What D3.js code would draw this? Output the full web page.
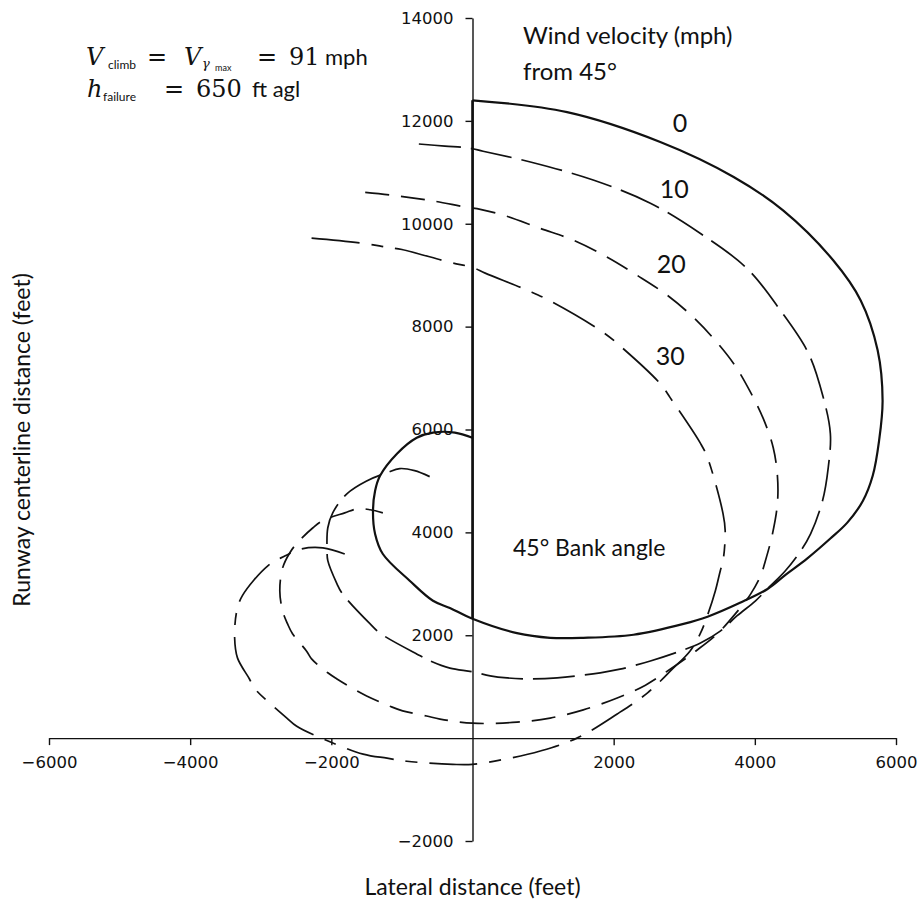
<!DOCTYPE html>
<meta charset="utf-8">
<script src="https://d3js.org/d3.v7.min.js"></script>
<style>
  body { margin: 0; background: #fff; }
  text { fill: #111; }
</style>
<svg id="chart" width="919" height="903"></svg>
<script>
// wind velocities (mph) from 45 degrees, one path each
const windSpeeds = [0, 10, 20, 30];
const xTicks = [-6000, -4000, -2000, 2000, 4000, 6000];
const yTicks = [-2000, 2000, 4000, 6000, 8000, 10000, 12000, 14000];

// ground tracks, [lateral ft, runway centerline ft]
const path0 = [[0,12400],[1340,12170],[2660,11590],[3700,10910],[4400,10260],[5110,9290],[5500,8510],
  [5740,7540],[5810,6560],[5760,5780],[5670,5100],[5530,4610],[5310,4190],[5070,3880],[4740,3490],
  [4430,3170],[4180,2900],[3790,2630],[3330,2360],[2990,2220],[2280,2010],[1570,1950],[1100,1950],[630,2040],
  [0,2320],[-320,2530],[-560,2670],[-890,3060],[-1270,3580],[-1380,3970],[-1410,4420],[-1380,4810],
  [-1310,5100],[-1070,5530],[-790,5840],[-560,5940],[-250,5940],[0,5840]];
const path10 = [[-760,11550],[-390,11510],[-40,11470],[150,11410],[820,11200],[1710,10850],[2520,10400],
  [3230,9810],[3890,9130],[4360,8320],[4760,7480],[4970,6620],[5070,5920],[5040,5260],[4960,4620],
  [4790,3970],[4650,3640],[4430,3250],[4220,2960],[4010,2670],[3750,2380],[3510,2080],[3230,1850],
  [2940,1690],[2520,1500],[2090,1340],[1810,1270],[1200,1170],[860,1150],[490,1170],[250,1210],
  [0,1290],[-320,1360],[-600,1500],[-740,1600],[-1310,2040],[-1450,2220],[-1850,2820],[-1920,3000],
  [-2050,3450],[-2060,3640],[-2050,4090],[-1980,4380],[-1780,4750],[-1500,5000],[-1210,5160],
  [-1030,5240],[-820,5200],[-600,5080]];
const path20 = [[-1520,10610],[-1170,10560],[-630,10460],[-80,10320],[110,10280],[430,10170],[960,9910],
  [1430,9680],[1910,9350],[2330,9000],[2760,8610],[3130,8180],[3440,7730],[3720,7240],[3940,6720],
  [4120,6210],[4260,5650],[4320,5100],[4320,4560],[4250,3970],[4150,3450],[4080,3150],[3940,2800],
  [3720,2410],[3470,2030],[3160,1690],[2800,1340],[2450,1030],[2050,780],[1570,550],[1100,390],
  [630,310],[0,290],[-460,370],[-650,430],[-990,530],[-1170,620],[-1500,820],[-1640,920],[-1920,1150],
  [-2050,1270],[-2280,1540],[-2350,1690],[-2550,2030],[-2620,2220],[-2690,2470],[-2730,2860],
  [-2690,3310],[-2590,3600],[-2480,3800],[-2260,4090],[-2120,4230],[-1810,4380],[-1620,4460],
  [-1450,4440],[-1270,4380]];
const path30 = [[-2280,9720],[-1550,9620],[-1200,9540],[-1000,9500],[-320,9250],[0,9150],[180,9040],
  [840,8670],[1140,8470],[1850,7890],[2120,7590],[2660,6890],[2800,6620],[3230,5730],[3330,5450],
  [3550,4360],[3580,4030],[3550,3450],[3510,3250],[3440,2860],[3340,2430],[3230,2040],[3080,1690],
  [2830,1340],[2480,880],[2050,470],[1480,0],[960,-250],[530,-390],[0,-510],[-280,-510],[-930,-450],
  [-1210,-390],[-1550,-310],[-2210,40],[-2490,230],[-2630,390],[-3090,970],[-3160,1150],[-3330,1560],
  [-3370,1950],[-3340,2470],[-3260,2770],[-2900,3350],[-2660,3540],[-2420,3680],[-2120,3700],
  [-1810,3580]];
const runway = [[0,2320],[0,12400]];
const labelPos = [[2940,11780],[2860,10500],[2815,9040],[2800,7245]];

const svg = d3.select("#chart");
const x = d3.scaleLinear().domain([-6000, 6000]).range([49, 896]);
const y = d3.scaleLinear().domain([-2000, 14000]).range([841, 18]);

const fmt = d => d < 0 ? "\u2212" + Math.abs(d) : String(d);

// axes
const gx = svg.append("g")
  .attr("transform", `translate(0,${y(0)})`)
  .call(d3.axisBottom(x).tickValues(xTicks).tickFormat(fmt).tickSize(7).tickSizeOuter(0).tickPadding(11));
const gy = svg.append("g")
  .attr("transform", `translate(${x(0)},0)`)
  .call(d3.axisLeft(y).tickValues(yTicks).tickFormat(fmt).tickSize(7).tickSizeOuter(0).tickPadding(12));
[gx, gy].forEach(g => {
  g.selectAll("path, line").attr("stroke", "#111").attr("stroke-width", 1.4);
  g.selectAll("text").attr("font-family", "DejaVu Sans").attr("font-size", 16.5).attr("fill", "#111");
});

const line = d3.line().x(d => x(d[0])).y(d => y(d[1])).curve(d3.curveCatmullRom.alpha(0.5));
const styles = [
  { data: path0, dash: null, w: 2.2 },
  { data: path10, dash: "42,10", w: 1.7 },
  { data: path20, dash: "24,12", w: 1.7 },
  { data: path30, dash: "48,12,12,12", w: 1.7 }
];
svg.append("g").selectAll("path")
  .data(styles)
  .join("path")
    .attr("d", d => line(d.data))
    .attr("fill", "none")
    .attr("stroke", "#111")
    .attr("stroke-width", d => d.w)
    .attr("stroke-dasharray", d => d.dash);

svg.append("path")
  .attr("d", d3.line().x(d => x(d[0])).y(d => y(d[1]))(runway))
  .attr("stroke", "#111").attr("stroke-width", 2.6);

// wind speed labels
svg.append("g").selectAll("text")
  .data(windSpeeds)
  .join("text")
    .attr("x", (d, i) => x(labelPos[i][0]))
    .attr("y", (d, i) => y(labelPos[i][1]))
    .attr("text-anchor", "middle")
    .attr("font-family", "Lato").attr("font-size", 25)
    .text(d => d);

const sans = "Lato";
svg.append("text").attr("x", 523).attr("y", 44).attr("font-family", sans).attr("font-size", 24).text("Wind velocity (mph)");
svg.append("text").attr("x", 523).attr("y", 80).attr("font-family", sans).attr("font-size", 24).text("from 45\u00b0");
svg.append("text").attr("x", 513).attr("y", 556).attr("font-family", sans).attr("font-size", 23).text("45\u00b0 Bank angle");

svg.append("text").attr("x", x(0)).attr("y", 895).attr("text-anchor", "middle")
  .attr("font-family", sans).attr("font-size", 23).text("Lateral distance (feet)");
svg.append("text").attr("transform", "translate(30,440) rotate(-90)").attr("text-anchor", "middle")
  .attr("font-family", sans).attr("font-size", 23).text("Runway centerline distance (feet)");

// formula block
const serif = "DejaVu Serif";
function piece(yb, px, str, opts) {
  svg.append("text").attr("x", px).attr("y", yb + (opts.dy || 0))
    .attr("font-family", opts.f || serif).attr("font-size", opts.s || 24)
    .attr("font-style", opts.i ? "italic" : null).text(str);
}
piece(65, 86, "V", { i: true });
piece(65, 108, "climb", { f: sans, s: 12, dy: 4 });
piece(65, 147, "=", {});
piece(65, 184, "V", { i: true });
piece(65, 202, "\u03b3", { i: true, s: 13, dy: 3 });
piece(65, 215, "max", { f: sans, s: 9, dy: 6 });
piece(65, 257, "=", {});
piece(65, 289, "91", {});
piece(65, 325, "mph", { f: sans, s: 22 });
piece(97, 87, "h", { i: true });
piece(97, 103, "failure", { f: sans, s: 12, dy: 4 });
piece(97, 164, "=", {});
piece(97, 196, "650", {});
piece(97, 252, "ft agl", { f: sans, s: 22 });
</script>
